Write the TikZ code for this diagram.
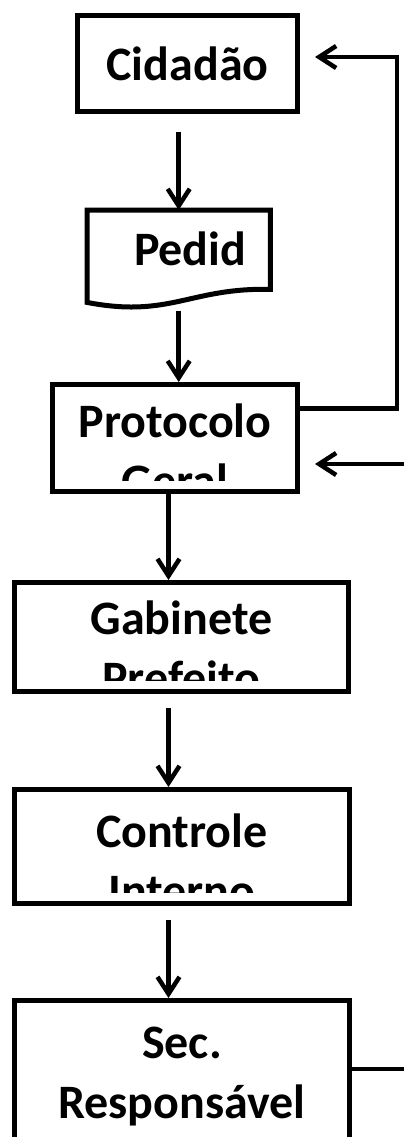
\documentclass[tikz,border=0pt]{standalone}
\usepackage{fontspec}
\setmainfont{Carlito}
\usetikzlibrary{arrows.meta}
\tikzstyle{box}=[draw, rectangle, line width=5pt, inner sep=0pt, anchor=north west]
\tikzstyle{lbl}=[font=\bfseries\fontsize{48}{60}\selectfont, inner sep=0pt, align=center, text width=330pt]
\tikzstyle{arr}=[line width=4.5pt, -{Straight Barb[length=17pt,width=22pt]}]
\tikzstyle{line}=[line width=4.5pt]
\tikzset{txt/.style 2 args={path picture={
	\clip ([yshift=11pt]path picture bounding box.south west) rectangle (path picture bounding box.north east);
	\node[lbl, anchor=base] at ([yshift=-#1]path picture bounding box.north) {#2};}}}

\begin{document}
\begin{tikzpicture}[x=1pt, y=-1pt]
	\useasboundingbox[fill=white] (0,0) rectangle (404,1137);
	\node	[box, minimum width=220pt, minimum height=96pt, txt={65pt}{Cidadão}]	(cid)	at (75,13)	{};
	\node	[minimum width=183pt, minimum height=98pt, inner sep=0pt, anchor=north west]	(ped)	at (87,210)	{};
	\node	[lbl, anchor=base]	(pedtxt)	at ([xshift=11.5pt, yshift=-55pt]ped.north)	{Pedid};
	\node	[box, minimum width=245pt, minimum height=107pt, txt={53pt}{Protocolo\\Geral}]	(prot)	at (50,382)	{};
	\node	[box, minimum width=334pt, minimum height=109pt, txt={52pt}{Gabinete\\Prefeito}]	(gab)	at (12,580)	{};
	\node	[box, minimum width=335pt, minimum height=114pt, txt={58pt}{Controle\\Interno}]	(ctl)	at (12,787)	{};
	\node	[box, minimum width=335pt, minimum height=145pt, txt={58pt}{Sec.\\Responsável}]	(sec)	at (12,998)	{};
	\coordinate	(back)	at (397,57);
	\coordinate	(ext)	at (404,464);
	\coordinate	(out)	at (404,1069);
	% documento
	\draw[line width=5pt] ([yshift=6pt]ped.south west) |- (ped.north east) -- ([yshift=19pt]ped.south east) .. controls +(-80,-2) and +(83,16) .. ([yshift=6pt]ped.south west) -- cycle;
	% fluxo
	\draw[arr] ([yshift=-18pt]cid.south -| ped.north) -- (ped.north);
	\draw[arr] ([yshift=-3pt]ped.south) -- (ped.south |- prot.north);
	\draw[arr] ([xshift=-6.5pt]prot.south) -- ([xshift=-6.5pt]prot.south |- gab.north);
	\draw[arr] ([shift={(-13pt,-14pt)}]gab.south) -- ([xshift=-13pt]gab.south |- ctl.north);
	\draw[arr] ([shift={(-13.5pt,-14pt)}]ctl.south) -- ([xshift=-13.5pt]ctl.south |- sec.north);
	\draw[arr] ([yshift=29.5pt]prot.east) -| (back) -- ([xshift=15pt]back -| cid.east);
	\draw[arr] (ext) -- ([xshift=15pt]ext -| prot.east);
	\draw[line] (out -| sec.east) -- (out);
\end{tikzpicture}
\end{document}
